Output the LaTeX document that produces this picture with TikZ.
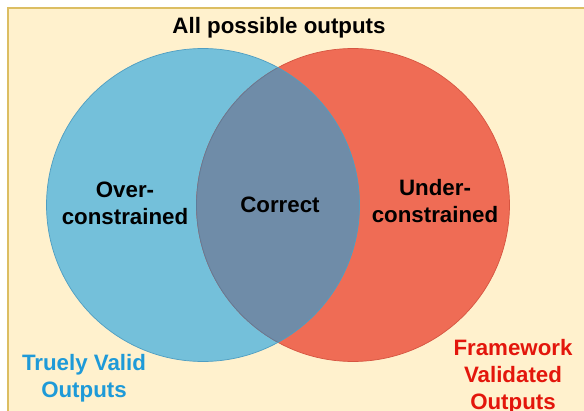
\documentclass[tikz,border=0pt]{standalone}
\usepackage{fontspec}
\setmainfont{Liberation Sans}
\definecolor{bgfill}{HTML}{FFF1CD}
\definecolor{bgline}{HTML}{DCBE62}
\definecolor{blueset}{HTML}{74C0DA}
\definecolor{redset}{HTML}{EF6C55}
\definecolor{lens}{HTML}{6F8CA8}
\definecolor{lensline}{HTML}{5E7C99}
\definecolor{blueline}{HTML}{4F9EC2}
\definecolor{redline}{HTML}{D65541}
\definecolor{bluetext}{HTML}{1E9AD8}
\definecolor{redtext}{HTML}{E3160C}
\begin{document}
\begin{tikzpicture}[x=1pt,y=-1pt,
  lbl/.style={font=\bfseries\fontsize{22.3}{27}\selectfont, inner sep=0pt, align=center},
  ring/.style={line width=0.7pt}]
\useasboundingbox (0,0) rectangle (584,411);
\filldraw[fill=bgfill, draw=bgline, line width=1.2pt] (8,8) rectangle (600,430);
\fill[blueset] (203,205) circle (156.5pt);
\fill[redset] (353,205) circle (156.5pt);
\draw[ring, redline] (353,205) circle (156.5pt);
\begin{scope}
  \clip (203,205) circle (156.5pt);
  \fill[lens] (353,205) circle (156.5pt);
  \draw[ring, lensline] (353,205) circle (156.5pt);
\end{scope}
\draw[ring, blueline] (203,205) circle (156.5pt);
\node[lbl, anchor=base] (title) at (279,34) {All possible outputs};
\node[lbl] (over) at (125,203.5) {Over-\\constrained};
\node[lbl] (correct) at (280,204.5) {Correct};
\node[lbl] (under) at (435,201) {Under-\\constrained};
\node[lbl, text=bluetext] (truly) at (84,378) {Truely Valid\\Outputs};
\node[lbl, text=redtext] (framework) at (513,377) {Framework\\Validated\\Outputs};
\end{tikzpicture}
\end{document}
